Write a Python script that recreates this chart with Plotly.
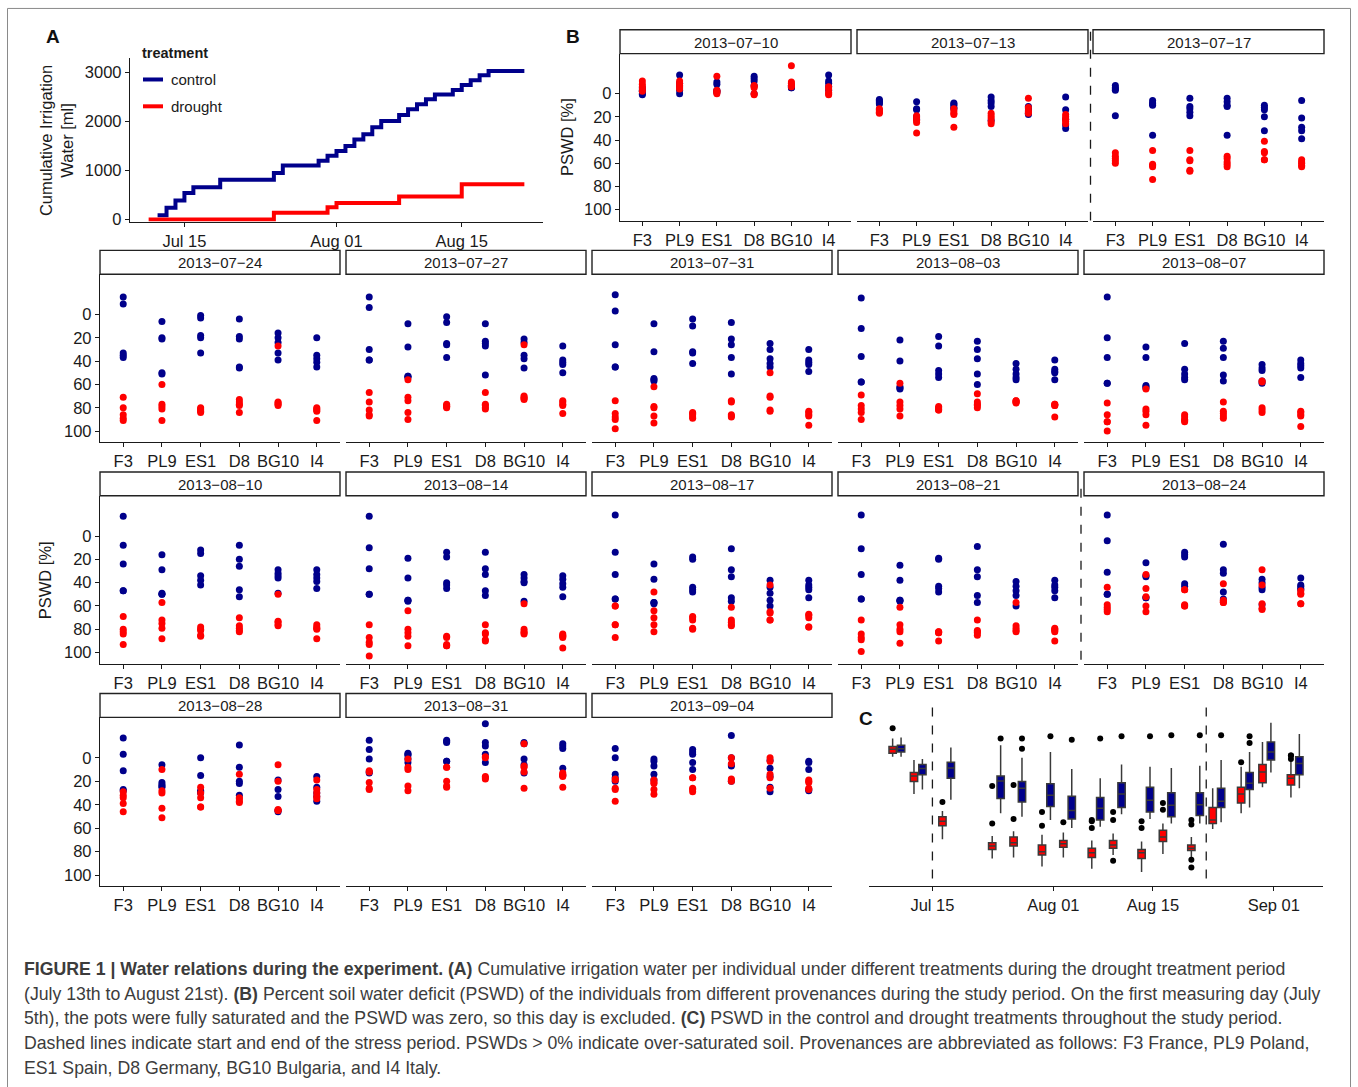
import plotly.graph_objects as go

W, H = 1358, 1087

# ---------------- data ----------------
provenances = ["F3", "PL9", "ES1", "D8", "BG10", "I4"]
dates = ["2013-07-10", "2013-07-13", "2013-07-17", "2013-07-24", "2013-07-27",
         "2013-07-31", "2013-08-03", "2013-08-07", "2013-08-10", "2013-08-14",
         "2013-08-17", "2013-08-21", "2013-08-24", "2013-08-28", "2013-08-31",
         "2013-09-04"]

# PSWD [%] per provenance (F3, PL9, ES1, D8, BG10, I4), control (c_) and drought (d_)
c_0710 = [[-5, -3, -2, 0, 1], [-16, -9, -6, -3, 0], [-10, -8, -3, -2, -1], [-15, -13, -11, -7, 0], [-7, -6, -6, -5, -5], [-16, -11, -9, -6, -3]]
d_0710 = [[-11, -8, -6, -4, -2], [-11, -9, -7, -5, -4], [-15, -3, -2, -1, 0], [-7, -6, -5, 0, 1], [-24, -10, -9, -7, -6], [-6, -4, -1, 0, 1]]
c_0713 = [[5, 6, 7, 8, 9], [7, 13, 14, 20, 22], [8, 9, 10, 12, 13], [3, 6, 8, 11, 23], [11, 13, 15, 17, 18], [3, 14, 22, 27, 30]]
d_0713 = [[13, 14, 15, 16, 17], [19, 21, 23, 25, 34], [13, 15, 17, 18, 29], [17, 19, 21, 24, 26], [4, 12, 15, 16, 17], [18, 20, 22, 24, 26]]
c_0717 = [[-7, -5, -4, -3, 19], [6, 8, 9, 10, 36], [4, 11, 13, 16, 19], [4, 7, 10, 11, 36], [10, 12, 14, 20, 32], [6, 21, 29, 32, 39]]
d_0717 = [[51, 54, 56, 58, 60], [49, 61, 62, 63, 74], [49, 57, 58, 66, 67], [54, 56, 59, 61, 63], [41, 50, 51, 57, 57], [57, 59, 60, 62, 63]]
c_0724 = [[-15, -9, 33, 35, 37], [6, 20, 21, 50, 51], [1, 3, 18, 20, 33], [4, 19, 21, 45, 46], [16, 20, 24, 33, 39], [20, 35, 38, 41, 45]]
d_0724 = [[71, 80, 86, 89, 91], [60, 77, 79, 81, 91], [80, 81, 82, 83, 84], [73, 75, 77, 78, 84], [27, 75, 76, 77, 78], [80, 81, 82, 83, 91]]
c_0727 = [[-15, -6, 30, 39, 39], [8, 28, 53, 53, 54], [2, 7, 25, 26, 37], [8, 23, 25, 27, 52], [21, 24, 35, 38, 46], [27, 39, 41, 43, 50]]
d_0727 = [[67, 75, 82, 86, 87], [56, 71, 74, 84, 90], [77, 78, 79, 79, 80], [67, 77, 78, 80, 81], [26, 70, 71, 72, 73], [74, 75, 77, 78, 85]]
c_0731 = [[-17, -3, 26, 45, 45], [8, 32, 55, 56, 57], [4, 10, 32, 33, 42], [7, 21, 26, 37, 51], [25, 30, 38, 42, 45], [30, 39, 41, 43, 49]]
d_0731 = [[74, 85, 88, 90, 98], [62, 79, 80, 87, 93], [84, 85, 86, 88, 89], [74, 75, 86, 87, 88], [50, 70, 71, 82, 83], [83, 84, 86, 87, 95]]
c_0803 = [[-14, 12, 36, 58, 58], [22, 40, 62, 63, 64], [19, 27, 48, 51, 54], [23, 30, 38, 51, 60], [42, 47, 51, 54, 56], [39, 47, 49, 50, 56]]
d_0803 = [[69, 78, 81, 84, 90], [59, 75, 78, 81, 87], [79, 80, 81, 82, 82], [68, 75, 77, 78, 80], [74, 74, 75, 75, 76], [77, 77, 78, 78, 88]]
c_0807 = [[-15, 20, 37, 59, 59], [28, 37, 61, 62, 63], [25, 47, 51, 54, 56], [23, 29, 37, 52, 57], [43, 46, 48, 57, 59], [39, 42, 44, 46, 54]]
d_0807 = [[76, 86, 92, 92, 100], [64, 81, 83, 86, 95], [86, 88, 90, 91, 92], [75, 83, 85, 87, 89], [57, 58, 80, 82, 84], [83, 84, 86, 87, 96]]
c_0810 = [[-17, 8, 24, 47, 47], [16, 29, 49, 50, 50], [12, 15, 34, 38, 42], [8, 20, 26, 46, 52], [29, 32, 34, 36, 49], [29, 33, 36, 39, 45]]
d_0810 = [[69, 80, 82, 84, 93], [57, 72, 75, 79, 88], [78, 80, 81, 85, 86], [70, 77, 79, 81, 82], [50, 73, 74, 76, 77], [76, 78, 79, 80, 88]]
c_0814 = [[-17, 10, 28, 50, 50], [19, 36, 55, 55, 56], [14, 18, 40, 42, 45], [14, 28, 33, 47, 51], [33, 36, 39, 40, 56], [34, 37, 41, 44, 52]]
d_0814 = [[76, 87, 91, 93, 103], [64, 80, 83, 86, 94], [86, 87, 93, 94, 94], [76, 83, 84, 89, 90], [58, 80, 82, 83, 84], [84, 85, 86, 87, 96]]
c_0817 = [[-18, 14, 33, 54, 54], [24, 37, 57, 57, 58], [18, 20, 44, 46, 48], [11, 29, 35, 53, 56], [38, 44, 49, 55, 60], [38, 42, 44, 46, 53]]
d_0817 = [[60, 60, 76, 76, 87], [48, 64, 70, 76, 82], [69, 70, 72, 79, 80], [61, 72, 74, 76, 77], [42, 65, 66, 72, 72], [67, 68, 70, 78, 78]]
c_0821 = [[-18, 11, 33, 54, 54], [25, 38, 55, 55, 56], [19, 20, 43, 45, 48], [9, 29, 35, 51, 57], [39, 43, 47, 51, 60], [38, 42, 44, 47, 53]]
d_0821 = [[72, 84, 87, 89, 99], [61, 76, 80, 82, 92], [82, 82, 83, 83, 90], [72, 81, 82, 83, 85], [57, 77, 79, 81, 82], [79, 80, 81, 82, 90]]
c_0824 = [[-18, 4, 31, 50, 50], [23, 34, 35, 53, 53], [14, 16, 18, 41, 43], [7, 29, 32, 48, 54], [37, 40, 44, 46, 59], [36, 42, 43, 45, 46]]
d_0824 = [[44, 59, 61, 63, 65], [33, 45, 52, 60, 65], [46, 46, 59, 60, 60], [41, 55, 56, 57, 57], [29, 42, 58, 62, 63], [47, 49, 50, 58, 58]]
c_0828 = [[-17, -3, 11, 27, 28], [6, 21, 23, 24, 25], [0, 15, 28, 29, 30], [-11, 8, 20, 22, 32], [19, 27, 33, 45, 46], [16, 25, 30, 33, 37]]
d_0828 = [[29, 32, 34, 39, 46], [10, 28, 30, 43, 51], [25, 30, 34, 42, 42], [14, 34, 35, 37, 38], [6, 20, 44, 45, 45], [19, 27, 30, 33, 35]]
c_0831 = [[-15, -7, 1, 12, 13], [-4, -3, -2, 1, 4], [-15, -14, -13, 3, 3], [-29, -13, -10, -3, 4], [-13, -12, 1, 6, 13], [-12, -10, -8, 9, 15]]
d_0831 = [[11, 12, 21, 26, 27], [1, 8, 10, 24, 28], [8, 8, 20, 24, 25], [-1, 0, 16, 17, 18], [-12, 7, 8, 12, 26], [13, 14, 15, 16, 25]]
c_0904 = [[-8, 0, 14, 17, 20], [1, 3, 7, 14, 19], [-7, -5, -3, 4, 10], [-19, 0, 6, 7, 20], [2, 9, 16, 25, 29], [3, 4, 10, 27, 28]]
d_0904 = [[18, 19, 26, 27, 37], [19, 21, 22, 27, 31], [17, 17, 26, 27, 29], [0, 5, 18, 19, 20], [0, 3, 14, 17, 26], [19, 20, 21, 26, 27]]

control_sets = [c_0710, c_0713, c_0717, c_0724, c_0727, c_0731, c_0803, c_0807,
                c_0810, c_0814, c_0817, c_0821, c_0824, c_0828, c_0831, c_0904]
drought_sets = [d_0710, d_0713, d_0717, d_0724, d_0727, d_0731, d_0803, d_0807,
                d_0810, d_0814, d_0817, d_0821, d_0824, d_0828, d_0831, d_0904]

# Panel A: cumulative irrigation water [ml]
a_control_dates = ["2013-07-12", "2013-07-13", "2013-07-14", "2013-07-15", "2013-07-16",
                   "2013-07-19", "2013-07-25", "2013-07-26", "2013-07-30", "2013-07-31",
                   "2013-08-01", "2013-08-02", "2013-08-03", "2013-08-04", "2013-08-05",
                   "2013-08-06", "2013-08-08", "2013-08-09", "2013-08-10", "2013-08-11",
                   "2013-08-12", "2013-08-14", "2013-08-15", "2013-08-16", "2013-08-17",
                   "2013-08-18", "2013-08-22"]
a_control_ml = [90, 240, 390, 540, 660, 810, 950, 1100, 1200, 1300, 1400, 1500, 1630,
                1740, 1880, 2010, 2130, 2250, 2350, 2450, 2550, 2640, 2740, 2840, 2940,
                3030, 3030]
a_drought_dates = ["2013-07-11", "2013-07-25", "2013-07-31", "2013-08-01", "2013-08-08",
                   "2013-08-15", "2013-08-22"]
a_drought_ml = [0, 140, 250, 340, 470, 720, 720]

pswd_ticks = [0, 20, 40, 60, 80, 100]
a_yticks = [0, 1000, 2000, 3000]
a_xticks = ["2013-07-15", "2013-08-01", "2013-08-15"]
c_xticks = ["2013-07-15", "2013-08-01", "2013-08-15", "2013-09-01"]
stress_lines = ["2013-07-15", "2013-08-22 12:00"]

# ---------------- style ----------------
FONT = "Liberation Sans, Arial, Helvetica, sans-serif"
BLUE = "#00008B"
RED = "#FF0000"
AX = "#1a1a1a"


def fx(p):
    return p / W


def fy(p):
    return 1 - p / H


def axis_base():
    return dict(showgrid=False, zeroline=False, linecolor=AX, linewidth=1.3,
                tickcolor=AX, tickwidth=1.2, ticklen=4,
                tickfont=dict(size=16.5, color=AX, family=FONT))


def note(text, x, y, size=16, xanchor="center", yanchor="middle", angle=0, color=AX):
    return dict(text=text, x=fx(x), y=fy(y), xref="paper", yref="paper",
                xanchor=xanchor, yanchor=yanchor, showarrow=False, textangle=angle,
                font=dict(size=size, color=color, family=FONT))


fig = go.Figure()
layout = dict(width=W, height=H, margin=dict(l=0, r=0, t=0, b=0),
              paper_bgcolor="white", plot_bgcolor="white", showlegend=False,
              font=dict(family=FONT, size=16, color=AX),
              boxmode="group", boxgap=0.21, boxgroupgap=0.13)
shapes = []
annotations = []

# ---------------- Panel A ----------------
fig.add_trace(go.Scatter(x=a_control_dates, y=a_control_ml, mode="lines", name="control",
                         line=dict(color=BLUE, width=4, shape="hv"), xaxis="x", yaxis="y"))
fig.add_trace(go.Scatter(x=a_drought_dates, y=a_drought_ml, mode="lines", name="drought",
                         line=dict(color=RED, width=4, shape="hv"), xaxis="x", yaxis="y"))
xa = axis_base()
xa.update(domain=[fx(130), fx(543)], anchor="y", type="date",
          range=["2013-07-08 22:00", "2013-08-24 02:00"], tickvals=a_xticks,
          tickformat="%b %d", showline=True, ticks="outside")
ya = axis_base()
ya.update(domain=[fy(223), fy(58)], anchor="x", range=[-40, 3300], tickvals=a_yticks,
          showline=True, ticks="outside")
layout["xaxis"] = xa
layout["yaxis"] = ya

annotations.append(note("Cumulative Irrigation<br>Water [ml]", 56, 142, size=16.5, angle=-90))
# legend
annotations.append(note("<b>treatment</b>", 140, 53, size=14.5, xanchor="left"))
for yy, col, lab in [(80, BLUE, "control"), (107, RED, "drought")]:
    shapes.append(dict(type="line", xref="paper", yref="paper", x0=fx(143), x1=fx(163),
                       y0=fy(yy), y1=fy(yy), line=dict(color=col, width=4)))
    annotations.append(note(lab, 169, yy, size=15, xanchor="left"))

# ---------------- Panel B (facets) ----------------
row1_x = [(620, 851), (857, 1088), (1093, 1324)]
rowN_x = [(100, 340), (346, 586), (592, 832), (838, 1078), (1084, 1324)]
row_y = [(54, 222), (276, 445), (499, 668), (722, 892)]
STRIP = 24

for i, d in enumerate(dates):
    if i < 3:
        row, col = 0, i
        xb = row1_x[col]
    else:
        k = i - 3
        row, col = 1 + k // 5, k % 5
        xb = rowN_x[col]
    yb = row_y[row]
    n = i + 2
    xn, yn = "x%d" % n, "y%d" % n
    for vals, color in [(control_sets[i], BLUE), (drought_sets[i], RED)]:
        xs, ys = [], []
        for j, p in enumerate(provenances):
            xs += [p] * len(vals[j])
            ys += vals[j]
        fig.add_trace(go.Scatter(x=xs, y=ys, mode="markers", xaxis=xn, yaxis=yn,
                                 marker=dict(color=color, size=7, line=dict(width=0)),
                                 cliponaxis=False))
    xax = axis_base()
    xax.update(domain=[fx(xb[0]), fx(xb[1])], anchor=yn, type="category",
               categoryorder="array", categoryarray=provenances, range=[-0.6, 5.6],
               showline=True, ticks="outside")
    yax = axis_base()
    yax.update(domain=[fy(yb[1]), fy(yb[0])], anchor=xn, range=[109.5, -34.5],
               tickvals=pswd_ticks)
    if col == 0:
        yax.update(showline=True, ticks="outside", showticklabels=True)
    else:
        yax.update(showline=False, ticks="", showticklabels=False)
    layout["xaxis%d" % n] = xax
    layout["yaxis%d" % n] = yax
    # strip
    shapes.append(dict(type="rect", xref="paper", yref="paper", x0=fx(xb[0]), x1=fx(xb[1]),
                       y0=fy(yb[0]), y1=fy(yb[0] - STRIP), fillcolor="white",
                       line=dict(color="#222222", width=1.4)))
    annotations.append(note(d.replace("-", "\u2212"), (xb[0] + xb[1]) / 2,
                            yb[0] - STRIP / 2 + 0.5, size=15))

# stress-period separators in panel B
shapes.append(dict(type="line", xref="paper", yref="paper", x0=fx(1090.5), x1=fx(1090.5),
                   y0=fy(32), y1=fy(222), line=dict(color=AX, width=1.3, dash="dash")))
shapes.append(dict(type="line", xref="paper", yref="paper", x0=fx(1081), x1=fx(1081),
                   y0=fy(492), y1=fy(668), line=dict(color=AX, width=1.3, dash="dash")))

annotations.append(note("PSWD [%]", 567, 138, size=16.5, angle=-90))
annotations.append(note("PSWD [%]", 45, 584, size=16.5, angle=-90))

# ---------------- Panel C (boxes) ----------------
for sets, color, name in [(drought_sets, RED, "drought"), (control_sets, BLUE, "control")]:
    bx, by = [], []
    for i, d in enumerate(dates):
        for vals in sets[i]:
            bx += [d] * len(vals)
            by += vals
    fig.add_trace(go.Box(x=bx, y=by, name=name, xaxis="x18", yaxis="y18",
                         fillcolor=color, line=dict(color="#3a3a3a", width=1.5),
                         marker=dict(color="black", size=6), boxpoints="outliers",
                         pointpos=0, jitter=0, whiskerwidth=0))
xc = axis_base()
xc.update(domain=[fx(869), fx(1323)], anchor="y18", type="date",
          range=["2013-07-06 02:00", "2013-09-07 22:00"], tickvals=c_xticks,
          tickformat="%b %d", showline=True, ticks="outside")
yc = dict(domain=[fy(892), fy(712)], anchor="x18", range=[115.5, -42.5], visible=False)
layout["xaxis18"] = xc
layout["yaxis18"] = yc
for s in stress_lines:
    shapes.append(dict(type="line", xref="x18", yref="paper", x0=s, x1=s,
                       y0=fy(712), y1=fy(892), line=dict(color=AX, width=1.3, dash="dash")))

# panel letters
for lab, x, y in [("A", 53, 37), ("B", 573, 37), ("C", 866, 723)]:
    annotations.append(note("<b>%s</b>" % lab, x, y, size=19, color="#111111"))

# outer frame
shapes.append(dict(type="rect", xref="paper", yref="paper", x0=fx(7.5), x1=fx(1350.5),
                   y0=fy(1100), y1=fy(8.5), line=dict(color="#8a8a8a", width=1),
                   fillcolor="rgba(0,0,0,0)", layer="below"))

# caption
caption = [
    "<b>FIGURE 1 | Water relations during the experiment. (A)</b> Cumulative irrigation water per individual under different treatments during the drought treatment period",
    "(July 13th to August 21st). <b>(B)</b> Percent soil water deficit (PSWD) of the individuals from different provenances during the study period. On the first measuring day (July",
    "5th), the pots were fully saturated and the PSWD was zero, so this day is excluded. <b>(C)</b> PSWD in the control and drought treatments throughout the study period.",
    "Dashed lines indicate start and end of the stress period. PSWDs > 0% indicate over-saturated soil. Provenances are abbreviated as follows: F3 France, PL9 Poland,",
    "ES1 Spain, D8 Germany, BG10 Bulgaria, and I4 Italy.",
]
for k, line in enumerate(caption):
    annotations.append(note(line, 22, 975 + 25 * k, size=17.7, xanchor="left", color="#3c3c3c"))

layout["shapes"] = shapes
layout["annotations"] = annotations
fig.update_layout(**layout)

fig.write_html("out.html", config={"displayModeBar": False},
               post_script="document.body.style.margin='0';document.body.style.overflow='hidden';")
